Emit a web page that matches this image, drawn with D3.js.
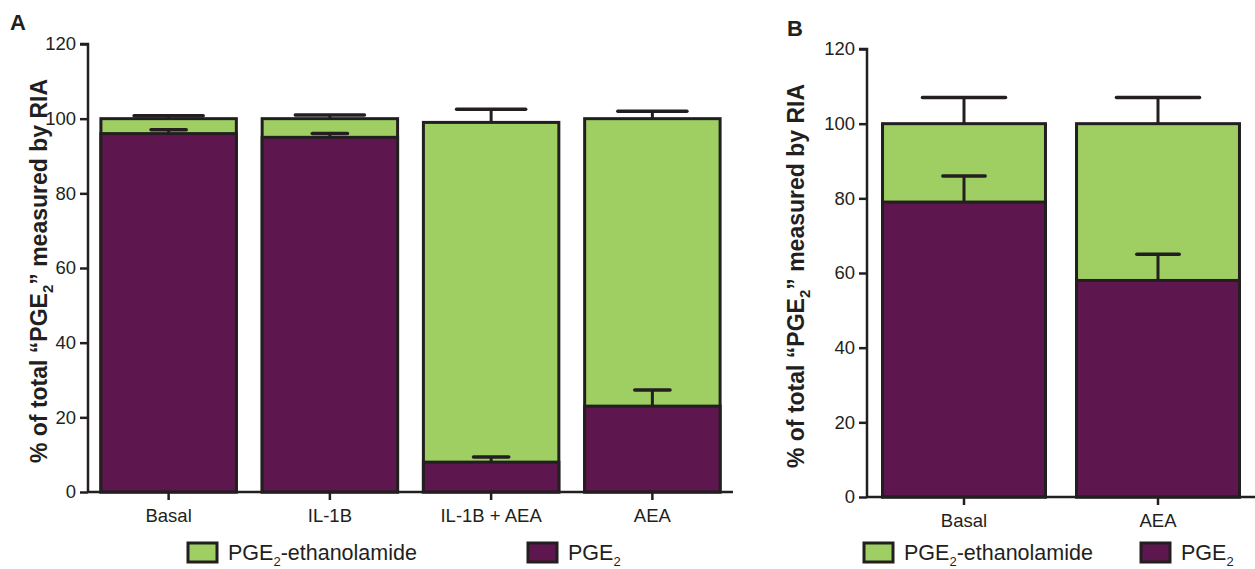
<!DOCTYPE html>
<html><head><meta charset="utf-8">
<script src="https://cdn.jsdelivr.net/npm/d3@7"></script>
<style>body{margin:0;background:#fff}svg{display:block}text{font-family:"Liberation Sans",Arial,sans-serif;fill:#231f20}</style>
</head><body><svg id="c" width="1255" height="569"></svg>
<script>
const yTicks = [0,20,40,60,80,100,120];
const catsA = ["Basal","IL-1B","IL-1B + AEA","AEA"];
const pge2A = [96, 95, 8, 23];
const pge2ErrA = [1, 1, 1.4, 4.3];
const totalA = [100, 100, 99, 100];
const totalErrA = [0.8, 1, 3.5, 2];
const catsB = ["Basal","AEA"];
const pge2B = [79, 58];
const pge2ErrB = [7, 7];
const totalB = [100, 100];
const totalErrB = [7, 7];
const seriesNames = ["PGE2-ethanolamide","PGE2"];

const GREEN = "#9fce63", PURPLE = "#5e174e", INK = "#231f20";
const svg = d3.select("#c");

function panel(opt){
  const {cats, pge2, pge2Err, total, totalErr, x0, x1, y0, y1, letter, lx, ly, titleX, leg} = opt;
  const g = svg.append("g");
  const y = d3.scaleLinear().domain([0,120]).range([y0,y1]);
  const x = d3.scaleBand().domain(cats).range([x0,x1]).paddingInner(0.16).paddingOuter(0.08);
  const bw = x.bandwidth();
  cats.forEach((c,i)=>{
    g.append("rect").attr("x",x(c)).attr("y",y(total[i])).attr("width",bw).attr("height",y(0)-y(total[i]))
      .attr("fill",GREEN).attr("stroke",INK).attr("stroke-width",3);
    g.append("rect").attr("x",x(c)).attr("y",y(pge2[i])).attr("width",bw).attr("height",y(0)-y(pge2[i]))
      .attr("fill",PURPLE).attr("stroke",INK).attr("stroke-width",3);
  });
  cats.forEach((c,i)=>{
    const cx = x(c)+bw/2;
    const eb = (v,e,w)=>{
      g.append("line").attr("x1",cx).attr("x2",cx).attr("y1",y(v)).attr("y2",y(v+e)).attr("stroke",INK).attr("stroke-width",3);
      g.append("line").attr("x1",cx-w/2).attr("x2",cx+w/2).attr("y1",y(v+e)).attr("y2",y(v+e))
        .attr("stroke",INK).attr("stroke-width",3.5).attr("stroke-linecap","round");
    };
    eb(total[i], totalErr[i], bw*0.51);
    eb(pge2[i], pge2Err[i], bw*0.26);
  });
  const ya = g.append("g").attr("transform",`translate(${x0},0)`)
    .call(d3.axisLeft(y).tickValues(yTicks).tickSize(8).tickPadding(4));
  const xa = g.append("g").attr("transform",`translate(0,${y0})`)
    .call(d3.axisBottom(x).tickSize(8).tickPadding(9));
  [ya,xa].forEach(a=>{
    a.selectAll("path,line").attr("stroke",INK).attr("stroke-width",2.5);
    a.selectAll("text").attr("font-size",18.5).attr("fill",INK).style("font-family","Liberation Sans, Arial, sans-serif");
  });
  ya.select(".domain").attr("d",`M-8,${y(120)}H0V${y0}`);
  xa.select(".domain").attr("d",`M${x0},0H${x1}`);
  const t = g.append("text").attr("transform",`translate(${titleX},${(y0+y1)/2+3}) rotate(-90)`)
    .attr("text-anchor","middle").attr("font-size",23).attr("font-weight","bold");
  t.append("tspan").text("% of total \u201CPGE");
  t.append("tspan").text("2").attr("font-size",15).attr("dy",6);
  t.append("tspan").text("\u201D measured by RIA").attr("dy",-6);
  g.append("text").attr("x",lx).attr("y",ly).attr("font-size",22).attr("font-weight","bold").text(letter);
  const colors = [GREEN, PURPLE];
  seriesNames.forEach((s,i)=>{
    const lxp = leg[i];
    g.append("rect").attr("x",lxp).attr("y",543).attr("width",29).attr("height",19)
      .attr("fill",colors[i]).attr("stroke",INK).attr("stroke-width",3);
    const tt = g.append("text").attr("x",lxp+40).attr("y",560).attr("font-size",21.5);
    tt.append("tspan").text("PGE");
    tt.append("tspan").text("2").attr("font-size",13).attr("dy",6);
    if (s.length>4) tt.append("tspan").text(s.slice(4)).attr("dy",-6);
  });
}

panel({cats:catsA, pge2:pge2A, pge2Err:pge2ErrA, total:totalA, totalErr:totalErrA,
  x0:88, x1:733, y0:492, y1:44, letter:"A", lx:10, ly:30, titleX:47, leg:[188,528]});
panel({cats:catsB, pge2:pge2B, pge2Err:pge2ErrB, total:totalB, totalErr:totalErrB,
  x0:867, x1:1255, y0:497, y1:49, letter:"B", lx:787, ly:36, titleX:804, leg:[864,1141]});
</script></body></html>
